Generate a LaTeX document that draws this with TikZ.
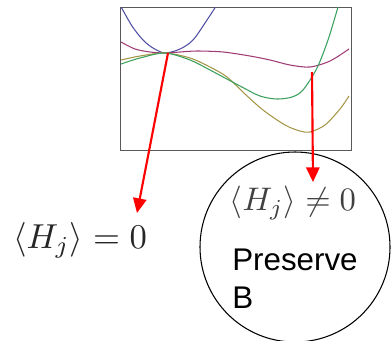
\documentclass[tikz,border=0pt]{standalone}
\usepackage{fontspec}
\setmainfont{Liberation Sans}
\usepackage{amsmath}
\usetikzlibrary{arrows.meta}

\definecolor{potblue}{RGB}{80,80,165}
\definecolor{potpurple}{RGB}{160,60,115}
\definecolor{potolive}{RGB}{165,150,70}
\definecolor{potgreen}{RGB}{60,160,95}

\begin{document}
\begin{tikzpicture}[x=0.75pt,y=-0.75pt]
\useasboundingbox (0,0) rectangle (391,340);
\tikzset{
  pot/.style={line width=0.8pt},
  vev/.style={red, line width=1.6pt, -{Triangle[length=11pt,width=10pt]}},
}
  \node [draw=black!65, line width=1pt, minimum width=173.25pt, minimum height=107.25pt,
         inner sep=0pt, anchor=north west] at (120,7) (plot) {};
  \begin{scope}
    \clip (plot.south west) rectangle (plot.north east);
    \draw [pot, potblue] plot [smooth] coordinates {(120,5) (132,26) (143,40) (153,48) (165,53) (180,49) (193,40) (207,20) (220,0)};
    \draw [pot, potpurple] plot [smooth] coordinates {(121,42) (135,49) (150,52) (165,53) (180,52) (197,51) (223,52) (250,56) (270,60) (290,65) (310,67) (330,61) (349,49)};
    \draw [pot, potolive] plot [smooth] coordinates {(121,60) (140,56) (165,53) (190,58) (210,67) (227,77) (245,94) (263,110) (285,125) (300,131) (310,132) (325,125) (340,109) (349,96)};
    \draw [pot, potgreen] plot [smooth] coordinates {(121,64) (140,58) (165,53) (190,60) (210,70) (240,86) (260,96) (277,99) (292,97) (303,90) (317,68) (328,40) (338,7) (340,0)};
  \end{scope}
  \coordinate (symmin) at (168,53);
  \coordinate (brokmin) at (312,72);
  \coordinate (symtip) at (137,213);
  \coordinate (broktip) at (313,182);

  \node [scale=2.6, text=black!85] at (80,240) (zero) {$\langle H_j\rangle = 0$};
  \node [draw, circle, line width=0.8pt, minimum size=142.5pt, inner sep=0pt] at (295,247) (bubble) {};
  \node [scale=2.45, text=black!75] at (293,203) (nonzero) {$\langle H_j\rangle \neq 0$};
  \node [align=left, anchor=west, font=\fontsize{23.5}{28.5}\selectfont, inner sep=0pt] at (232,279) (keep) {Preserve\\B};

  \draw [vev] (symmin) -- (symtip);
  \draw [vev] (brokmin) -- (broktip);
\end{tikzpicture}
\end{document}
